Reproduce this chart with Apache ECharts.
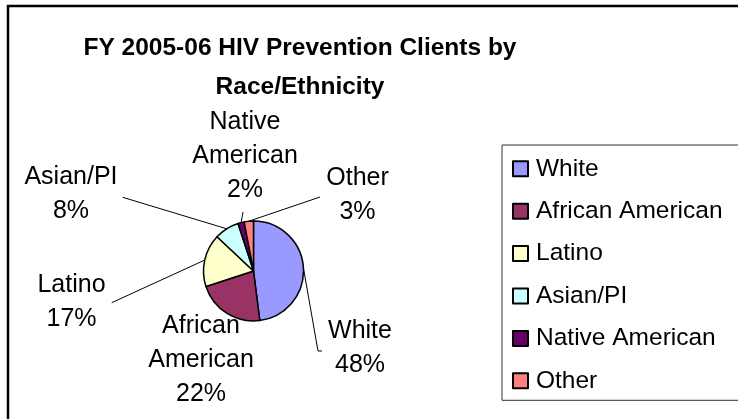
<!DOCTYPE html>
<html>
<head>
<meta charset="utf-8">
<script src="https://cdn.jsdelivr.net/npm/echarts@6/dist/echarts.min.js"></script>
<style>
html,body{margin:0;padding:0;background:#fff;}
#chart{width:738px;height:419px;}
</style>
</head>
<body>
<div id="chart"></div>
<script>
// ---- data ----
const categories = ['White', 'African American', 'Latino', 'Asian/PI', 'Native American', 'Other'];
const labelNames = ['White', 'African\nAmerican', 'Latino', 'Asian/PI', 'Native\nAmerican', 'Other'];
const values = [48, 22, 17, 8, 2, 3];
const colors = ['#9999FF', '#993366', '#FFFFCC', '#CCFFFF', '#660066', '#FF8080'];
const titleText = 'FY 2005-06 HIV Prevention Clients by\nRace/Ethnicity';

// ---- label placement (style) ----
const labelPos = [[360, 348.5], [201, 360], [71.5, 302.3], [71, 194.2], [245, 156.2], [357.5, 195]];
const lineEnds = [[[318, 351], [322, 351]], null, [[111.7, 302.7]], [[122.7, 197.3]], [[243, 212]], [[320, 197]]];

const FONT = '"Liberation Sans", Arial, sans-serif';

const chart = echarts.init(document.getElementById('chart'), null, {renderer: 'canvas'});

const option = {
  animation: false,
  backgroundColor: '#ffffff',
  title: {
    text: titleText,
    left: 300,
    top: 28,
    padding: 0,
    textAlign: 'center',
    textStyle: {
      fontFamily: FONT,
      fontWeight: 'bold',
      fontSize: 24.5,
      lineHeight: 39.5,
      color: '#000'
    }
  },
  legend: {
    orient: 'vertical',
    left: 502,
    top: 145,
    padding: [11.3, 30, 7, 10],
    borderColor: '#333',
    borderWidth: 1,
    itemWidth: 15,
    itemHeight: 15,
    itemGap: 17.4,
    icon: 'rect',
    selectedMode: false,
    data: categories,
    textStyle: {
      fontFamily: FONT,
      fontSize: 24.5,
      lineHeight: 15,
      color: '#000',
      padding: [0, 0, 0, 3]
    }
  },
  graphic: [{
    type: 'rect',
    silent: true,
    shape: {x: 8, y: 6, width: 800, height: 440},
    style: {fill: null, stroke: '#000', lineWidth: 2.5},
    z: 100
  }],
  series: [{
    type: 'pie',
    center: [253.5, 271],
    radius: 50,
    startAngle: 90,
    clockwise: true,
    avoidLabelOverlap: false,
    emphasis: {disabled: true},
    itemStyle: {borderColor: '#000', borderWidth: 1.5},
    label: {
      show: true,
      position: 'outside',
      fontFamily: FONT,
      fontSize: 25,
      lineHeight: 34,
      color: '#000',
      align: 'center',
      formatter: function (p) {
        return labelNames[p.dataIndex] + '\n' + Math.round(p.percent) + '%';
      }
    },
    labelLine: {
      show: true,
      length: 10,
      length2: 10,
      lineStyle: {color: '#000', width: 1}
    },
    labelLayout: function (params) {
      const i = params.dataIndex;
      const r = {x: labelPos[i][0], y: labelPos[i][1], align: 'center', verticalAlign: 'middle'};
      if (lineEnds[i] && params.labelLinePoints) {
        const s = params.labelLinePoints[0];
        const ends = lineEnds[i];
        if (ends.length === 1) {
          const e = ends[0];
          r.labelLinePoints = [[s[0], s[1]], [(s[0] + e[0]) / 2, (s[1] + e[1]) / 2], [e[0], e[1]]];
        } else {
          r.labelLinePoints = [[s[0], s[1]], ends[0], ends[1]];
        }
      }
      return r;
    },
    data: categories.map(function (c, i) {
      const d = {name: c, value: values[i], itemStyle: {color: colors[i]}};
      if (!lineEnds[i]) d.labelLine = {show: false};
      return d;
    })
  }]
};

chart.setOption(option);
</script>
</body>
</html>
